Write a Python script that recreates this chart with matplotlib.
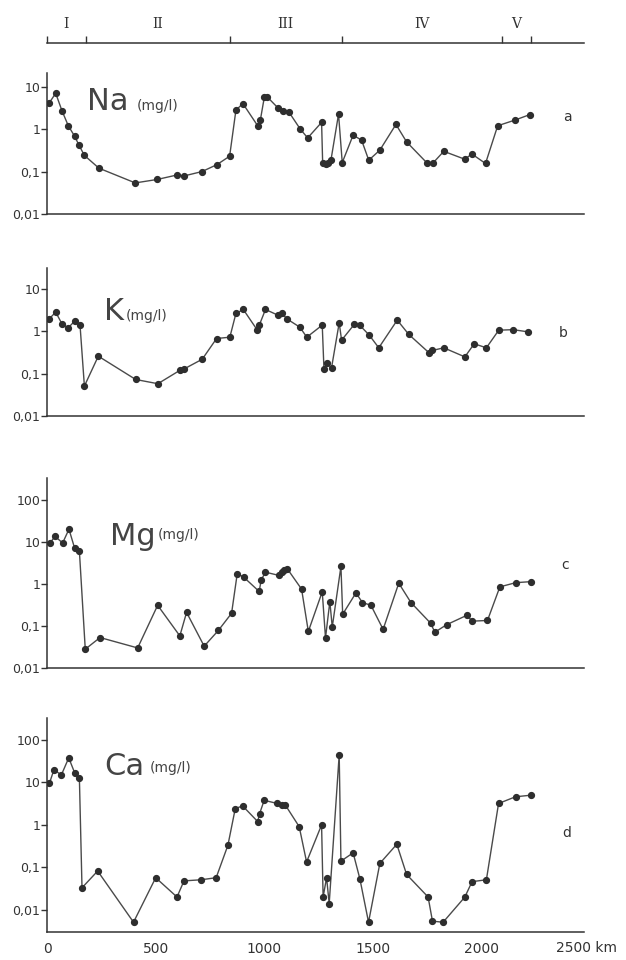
import numpy as np
from matplotlib import pyplot as plt
from matplotlib.ticker import FixedLocator, NullLocator

plt.rc("font", family="DejaVu Sans")

# distance along the river (km) and concentrations (mg/l)
na_km = [11, 40, 69, 98, 127, 147, 172, 239, 406, 506, 598, 631, 713, 782, 840,
         869, 901, 969, 981, 1000, 1012, 1064, 1087, 1111, 1165, 1199, 1263, 1268,
         1283, 1294, 1306, 1341, 1358, 1408, 1447, 1480, 1531, 1605, 1654, 1750,
         1776, 1825, 1922, 1954, 2017, 2073, 2152, 2221]
na = [4.2, 7.0, 2.7, 1.2, 0.68, 0.42, 0.24, 0.12, 0.054, 0.065, 0.083, 0.079, 0.1,
      0.146, 0.23, 2.8, 4.0, 1.2, 1.6, 5.8, 5.8, 3.1, 2.7, 2.6, 1.0, 0.62, 1.44,
      0.155, 0.15, 0.155, 0.185, 2.26, 0.163, 0.72, 0.55, 0.185, 0.32, 1.29, 0.5,
      0.155, 0.16, 0.30, 0.195, 0.26, 0.155, 1.2, 1.63, 2.2]

k_km = [11, 40, 69, 98, 129, 152, 172, 236, 408, 510, 611, 631, 714, 780, 841,
        869, 903, 966, 976, 1005, 1064, 1080, 1102, 1163, 1195, 1266, 1274, 1286,
        1309, 1344, 1355, 1413, 1439, 1482, 1526, 1611, 1664, 1758, 1773, 1825,
        1922, 1965, 2021, 2078, 2144, 2211]
k = [2.0, 2.86, 1.5, 1.22, 1.8, 1.39, 0.051, 0.26, 0.073, 0.058, 0.12, 0.13, 0.22,
     0.68, 0.73, 2.66, 3.3, 1.1, 1.39, 3.3, 2.4, 2.77, 2.0, 1.26, 0.73, 1.41, 0.126,
     0.175, 0.14, 1.6, 0.62, 1.46, 1.39, 0.82, 0.41, 1.85, 0.85, 0.31, 0.355, 0.41,
     0.25, 0.51, 0.41, 1.07, 1.1, 0.98]

mg_km = [14, 37, 72, 101, 127, 149, 176, 244, 417, 509, 611, 642, 723, 788, 849,
         875, 904, 976, 985, 1005, 1065, 1079, 1091, 1105, 1171, 1202, 1266, 1281,
         1301, 1312, 1352, 1360, 1421, 1451, 1490, 1546, 1618, 1674, 1764, 1784,
         1838, 1932, 1955, 2026, 2083, 2156, 2224]
mg = [9.4, 13.5, 9.4, 20, 7.1, 6.0, 0.028, 0.053, 0.030, 0.31, 0.058, 0.21, 0.033,
      0.078, 0.2, 1.75, 1.46, 0.66, 1.24, 1.9, 1.6, 1.95, 2.1, 2.3, 0.75, 0.074,
      0.65, 0.052, 0.38, 0.094, 2.6, 0.19, 0.61, 0.36, 0.31, 0.083, 1.04, 0.36,
      0.117, 0.071, 0.107, 0.18, 0.13, 0.135, 0.85, 1.07, 1.13]

ca_km = [11, 32, 66, 100, 127, 149, 161, 233, 398, 500, 598, 630, 709, 778, 832,
         866, 900, 969, 978, 999, 1059, 1079, 1097, 1160, 1194, 1263, 1270, 1286,
         1298, 1344, 1352, 1408, 1439, 1479, 1531, 1609, 1654, 1753, 1773, 1822,
         1922, 1955, 2021, 2077, 2155, 2224]
ca = [9.5, 20, 15, 38, 17, 12.4, 0.033, 0.082, 0.0051, 0.057, 0.02, 0.048, 0.051,
      0.057, 0.33, 2.43, 2.8, 1.2, 1.85, 3.8, 3.2, 3.0, 2.9, 0.91, 0.134, 1.0, 0.02,
      0.057, 0.014, 45, 0.14, 0.22, 0.054, 0.0051, 0.124, 0.35, 0.068, 0.02, 0.0054,
      0.0051, 0.02, 0.046, 0.051, 3.2, 4.6, 5.0]

# river sections
section_bounds = [0, 179, 841, 1356, 2092, 2225]
section_names = ["I", "II", "III", "IV", "V"]

x_ticks = [0, 500, 1000, 1500, 2000]
x_ticklabels = ["0", "500", "1000", "1500", "2000"]

W, H = 626, 960
fig = plt.figure(figsize=(W / 100, H / 100), dpi=100)
fig.patch.set_facecolor("white")

X0, X1 = 47, 584  # pixel extent of x axis
XMAX = 2470


def px_axes(top, bottom):
    return fig.add_axes([X0 / W, 1 - bottom / H, (X1 - X0) / W, (bottom - top) / H])


line_col = "#4a4a4a"
dot_col = "#2e2e2e"

panels = [
    # x, y, symbol, letter, top px, bottom px, ylim, yticks, yticklabels,
    # symbol pos, unit pos, letter pos
    (na_km, na, "Na", "a", 73, 214, (0.01, 21), [0.01, 0.1, 1, 10],
     ["0,01", "0,1", "1", "10"], (87, 110), (137, 110), (567, 117)),
    (k_km, k, "K", "b", 268, 416, (0.01, 31.6), [0.01, 0.1, 1, 10],
     ["0,01", "0,1", "1", "10"], (104, 320), (126, 320), (563, 333)),
    (mg_km, mg, "Mg", "c", 478, 668, (0.01, 330), [0.01, 0.1, 1, 10, 100],
     ["0,01", "0,1", "1", "10", "100"], (110, 545), (158, 539), (565, 565)),
    (ca_km, ca, "Ca", "d", 718, 932, (0.003, 330), [0.01, 0.1, 1, 10, 100],
     ["0,01", "0,1", "1", "10", "100"], (104, 775), (150, 772), (567, 833)),
]

for i, (xs, ys, sym, letter, top, bottom, ylim, yt, ytl, spos, upos, lpos) in enumerate(panels):
    ax = px_axes(top, bottom)
    ax.plot(xs, ys, "-", color=line_col, lw=1.0, zorder=2)
    ax.plot(xs, ys, "o", color=dot_col, ms=4.2, mec=dot_col, zorder=3)
    ax.set_yscale("log")
    ax.set_ylim(ylim)
    ax.set_xlim(0, XMAX)
    ax.yaxis.set_major_locator(FixedLocator(yt))
    ax.yaxis.set_minor_locator(NullLocator())
    ax.set_yticklabels(ytl)
    for s in ["top", "right"]:
        ax.spines[s].set_visible(False)
    for s in ["left", "bottom"]:
        ax.spines[s].set_color("#333333")
        ax.spines[s].set_linewidth(1.1)
    ax.tick_params(axis="y", direction="out", length=4, width=1, color="#333333",
                   labelsize=9, pad=1, labelcolor="#333333")
    if i == 3:
        ax.set_xticks(x_ticks)
        ax.set_xticklabels(x_ticklabels)
        ax.tick_params(axis="x", length=0, labelsize=10, pad=7, labelcolor="#333333")
        ax.text(2480, -0.075, "2500 km", transform=ax.get_xaxis_transform(),
                ha="center", va="center", fontsize=10, color="#333333", clip_on=False)
    else:
        ax.set_xticks([])
    fig.text(spos[0] / W, 1 - spos[1] / H, sym, fontsize=22, color="#444444",
             ha="left", va="baseline")
    fig.text(upos[0] / W, 1 - upos[1] / H, "(mg/l)", fontsize=10, color="#444444",
             ha="left", va="baseline")
    fig.text(lpos[0] / W, 1 - lpos[1] / H, letter, fontsize=10, color="#333333",
             ha="center", va="center")

# section scale on top
top_ax = fig.add_axes([X0 / W, 1 - 43 / H, (X1 - X0) / W, 0.02])
top_ax.set_xlim(0, XMAX)
top_ax.set_ylim(0, 1)
for s in ["top", "right", "left"]:
    top_ax.spines[s].set_visible(False)
top_ax.spines["bottom"].set_color("#333333")
top_ax.spines["bottom"].set_linewidth(1.1)
top_ax.set_yticks([])
top_ax.set_xticks(section_bounds)
top_ax.set_xticklabels([])
top_ax.tick_params(axis="x", direction="in", length=5, width=1, color="#333333")
top_ax.patch.set_alpha(0)
for j, name in enumerate(section_names):
    mid = 0.5 * (section_bounds[j] + section_bounds[j + 1])
    top_ax.text(mid, 1.0, name, ha="center", va="center", fontsize=10,
                family="DejaVu Serif", color="#333333")

fig.savefig("out.png", dpi=100)
